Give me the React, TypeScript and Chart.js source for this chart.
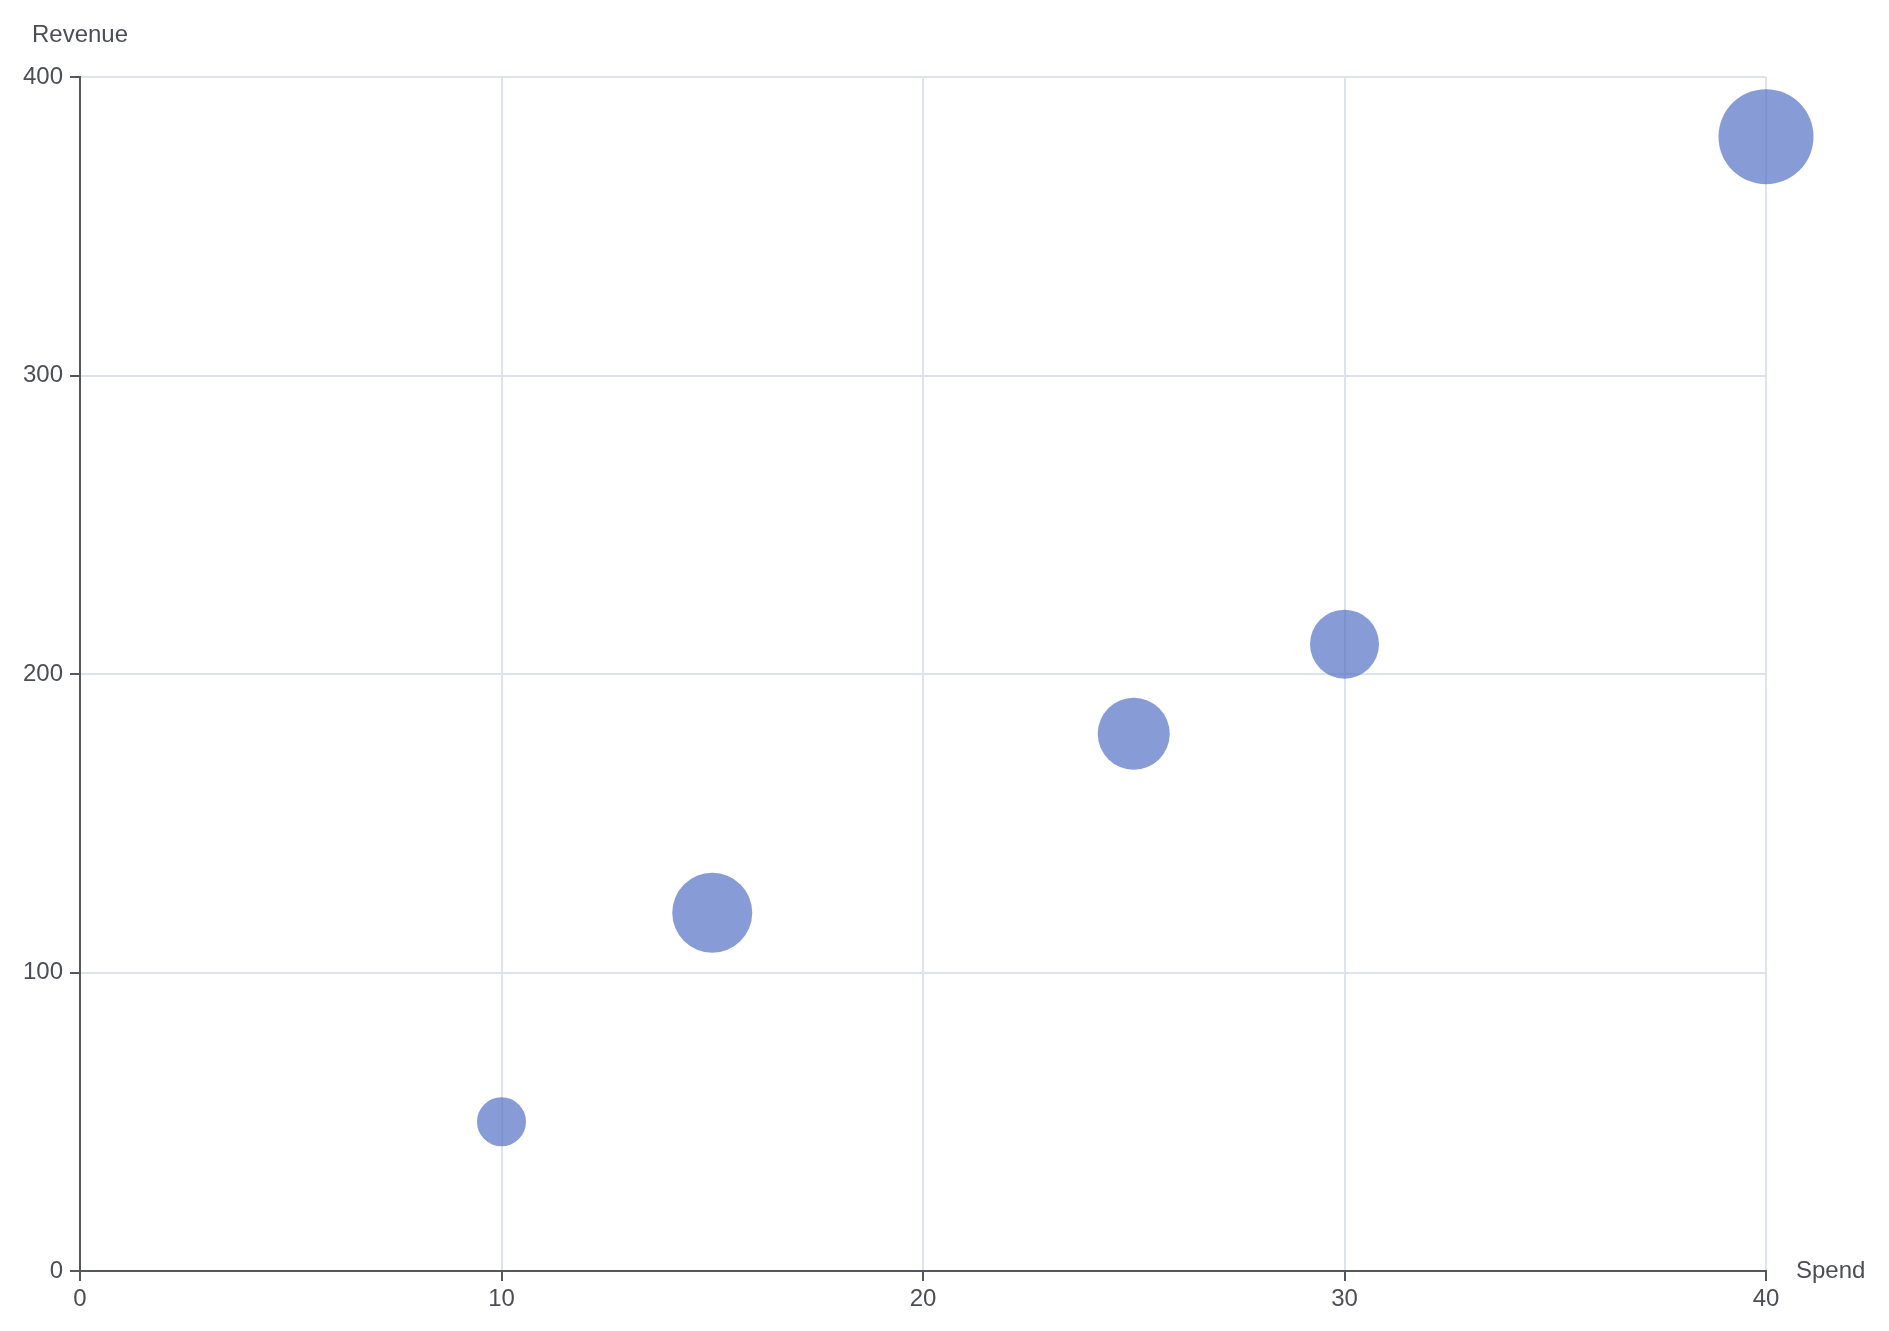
import { useEffect, useRef } from 'react';
import { Chart, registerables } from 'chart.js';

Chart.register(...registerables);

const spend = [10, 15, 25, 30, 40];
const revenue = [50, 120, 180, 210, 380];
const bubbleRadius = [24.5, 40, 36, 34.5, 47.5];
const xName = 'Spend';
const yName = 'Revenue';

const AXIS_COLOR = '#55575f';
const TEXT_COLOR = '#4c4e56';
const GRID_COLOR = '#DDE2EC';
const BUBBLE_COLOR = 'rgba(84,112,198,0.7)';
const FONT_FAMILY = '"Liberation Sans", Arial, Helvetica, sans-serif';
const FONT_SIZE = 24;

const axisNames = {
  id: 'axisNames',
  afterDraw(chart: any) {
    const { ctx, chartArea } = chart;
    ctx.save();
    ctx.fillStyle = TEXT_COLOR;
    ctx.font = `${FONT_SIZE}px ${FONT_FAMILY}`;
    ctx.textAlign = 'center';
    ctx.textBaseline = 'alphabetic';
    ctx.fillText(yName, chartArea.left, chartArea.top - 35);
    ctx.textAlign = 'left';
    ctx.textBaseline = 'middle';
    ctx.fillText(xName, chartArea.right + 30, chartArea.bottom);
    ctx.restore();
  },
};

export default function App() {
  const ref = useRef<HTMLCanvasElement | null>(null);
  useEffect(() => {
    if (!ref.current) return;
    const data = spend.map((x, i) => ({ x, y: revenue[i], r: bubbleRadius[i] }));
    const chart = new Chart(ref.current, {
      type: 'bubble',
      data: {
        datasets: [
          {
            data,
            backgroundColor: BUBBLE_COLOR,
            borderWidth: 0,
            hoverBorderWidth: 0,
            hoverRadius: 0,
            clip: false as any,
          },
        ],
      },
      options: {
        responsive: false,
        animation: false,
        devicePixelRatio: 1,
        events: [],
        layout: { padding: { left: 0, top: 77, right: 123, bottom: 0 } },
        plugins: { legend: { display: false }, tooltip: { enabled: false } },
        scales: {
          x: {
            type: 'linear',
            min: 0,
            max: 40,
            afterFit: (s: any) => {
              s.height = 60;
            },
            ticks: {
              stepSize: 10,
              padding: 4,
              color: TEXT_COLOR,
              font: { family: FONT_FAMILY, size: FONT_SIZE },
            },
            grid: {
              color: GRID_COLOR,
              lineWidth: 2,
              tickColor: AXIS_COLOR,
              tickLength: 10,
              tickWidth: 2,
            },
            border: { color: AXIS_COLOR, width: 2 },
          },
          y: {
            type: 'linear',
            min: 0,
            max: 400,
            afterFit: (s: any) => {
              s.width = 80;
            },
            ticks: {
              stepSize: 100,
              padding: 7,
              color: TEXT_COLOR,
              font: { family: FONT_FAMILY, size: FONT_SIZE },
            },
            grid: {
              color: GRID_COLOR,
              lineWidth: 2,
              tickColor: AXIS_COLOR,
              tickLength: 10,
              tickWidth: 2,
            },
            border: { color: AXIS_COLOR, width: 2 },
          },
        },
      },
      plugins: [axisNames],
    });
    return () => chart.destroy();
  }, []);
  return (
    <div style={{ position: 'absolute', left: 0, top: 0, width: 1889, height: 1331, background: '#fff' }}>
      <canvas ref={ref} width={1889} height={1331} style={{ width: 1889, height: 1331, display: 'block' }} />
    </div>
  );
}
